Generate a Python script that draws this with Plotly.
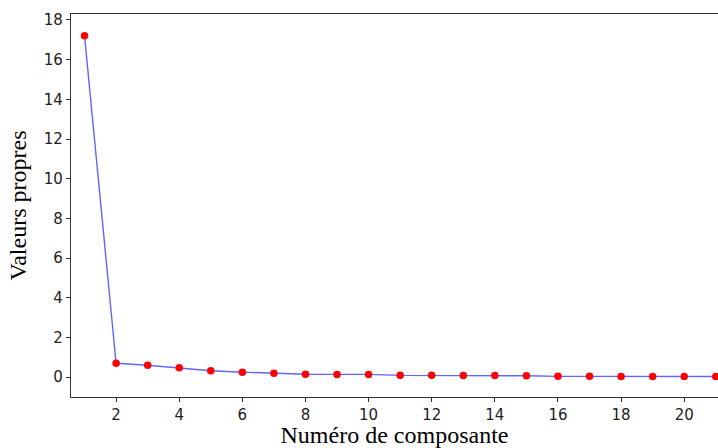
import plotly.graph_objects as go

composantes = list(range(1, 22))
valeurs = [17.2, 0.70, 0.60, 0.47, 0.32, 0.25, 0.20, 0.15, 0.14, 0.14, 0.09,
           0.09, 0.08, 0.08, 0.07, 0.04, 0.04, 0.03, 0.03, 0.03, 0.03]

fig = go.Figure()
fig.add_trace(go.Scatter(x=composantes, y=valeurs, mode='lines',
                         line=dict(color='#6464ff', width=1.4),
                         showlegend=False, hoverinfo='skip'))
fig.add_trace(go.Scatter(x=composantes, y=valeurs, mode='markers',
                         marker=dict(color='#ff0000', size=7.5),
                         showlegend=False))

fig.update_layout(width=718, height=448,
                  margin=dict(l=71, r=0, t=14, b=51),
                  paper_bgcolor='white', plot_bgcolor='white',
                  font=dict(family='DejaVu Sans', size=15, color='#222222'))
# right edge is cut like in the original picture (point 21 only half shown)
fig.update_xaxes(range=[0.571, 21.07], tickvals=list(range(2, 21, 2)),
                 showgrid=False, zeroline=False, automargin=False,
                 showline=True, linecolor='#333333', linewidth=1.3, mirror=True,
                 ticks='outside', ticklen=4, tickcolor='#333333',
                 title=dict(text='Numéro de composante', standoff=6,
                            font=dict(family='Liberation Serif', size=24, color='black')))
fig.update_yaxes(range=[-1.0, 18.3], tickvals=list(range(0, 19, 2)),
                 showgrid=False, zeroline=False, automargin=False,
                 showline=True, linecolor='#333333', linewidth=1.3, mirror=False,
                 ticks='outside', ticklen=4, tickcolor='#333333',
                 title=dict(text='Valeurs propres', standoff=10,
                            font=dict(family='Liberation Serif', size=24, color='black')))

fig.write_html('out.html', config={'displayModeBar': False},
               post_script="document.body.style.margin='0';")
